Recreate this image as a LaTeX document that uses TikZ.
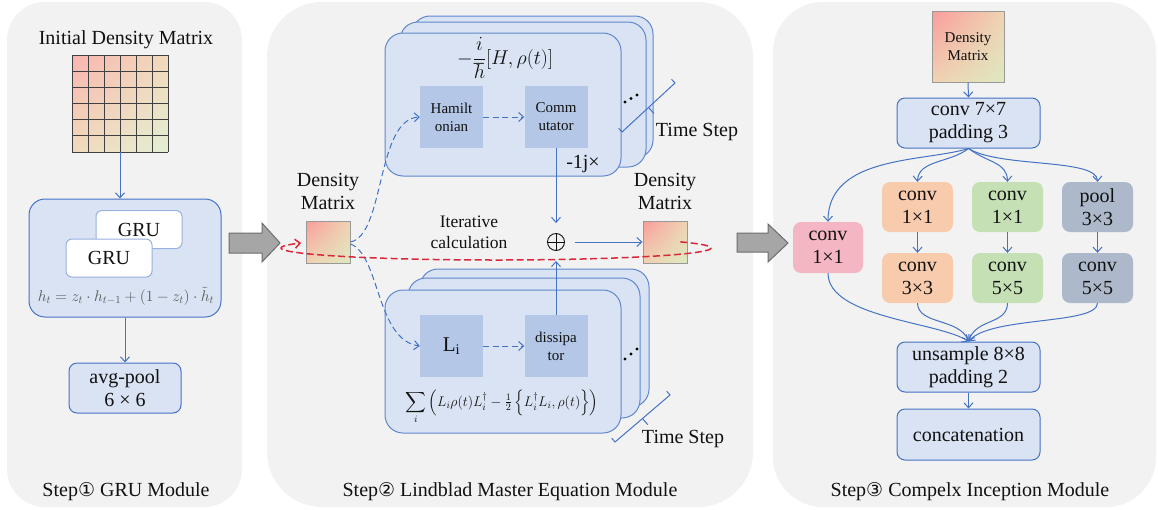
\RequirePackage{fix-cm}
\documentclass[tikz,border=0pt]{standalone}
\usepackage{amsmath}
\usepackage{fontspec}
\setmainfont{Liberation Serif}
\newfontfamily\dejavu{DejaVu Sans}
\usetikzlibrary{arrows.meta,shadings}
\definecolor{panelgray}{HTML}{F2F2F2}
\definecolor{boxblue}{HTML}{DAE3F3}
\definecolor{lineblue}{HTML}{4472C4}
\definecolor{innerblue}{HTML}{B4C7E7}
\definecolor{dmpink}{HTML}{FA9C9C}
\definecolor{dmtan}{HTML}{F0D3B2}
\definecolor{dmgreen}{HTML}{DDE9C0}
\definecolor{gpink}{HTML}{F9B5B0}
\definecolor{gtan}{HTML}{F1DABB}
\definecolor{ggreen}{HTML}{E3EFD4}
\definecolor{cpink}{HTML}{F4B6C2}
\definecolor{corange}{HTML}{F8CBAD}
\definecolor{cgreen}{HTML}{C5E0B4}
\definecolor{cgray}{HTML}{ADB9CA}
\definecolor{redash}{HTML}{D9283A}
\definecolor{arrowgray}{HTML}{A6A6A6}
\definecolor{txt}{HTML}{111111}
\newcommand\myfA{\fontsize{20}{23}\selectfont}
\newcommand\myfB{\fontsize{15}{18}\selectfont}
\newcommand\myfC{\fontsize{17.5}{21}\selectfont}
\begin{document}
\begin{tikzpicture}[x=1pt,y=-1pt,
  every node/.style={text=txt},
  panel/.style={fill=panelgray,draw=none},
  bluebox/.style={fill=boxblue,draw=lineblue,line width=1pt,rounded corners=8pt,inner sep=0pt,align=center,font=\myfA},
  stacklayer/.style={fill=boxblue,draw=lineblue!85,line width=1pt,rounded corners=18pt},
  innerbox/.style={fill=innerblue,draw=none,inner sep=0pt,minimum width=63pt,minimum height=62pt,align=center,font=\myfB},
  colbox/.style={draw=none,rounded corners=8pt,inner sep=0pt,minimum width=71pt,minimum height=50pt,align=center,font=\myfA},
  gruwhite/.style={fill=white,draw=lineblue!55,line width=1pt,rounded corners=6pt,minimum width=86pt,minimum height=38pt,inner sep=0pt,font=\myfA},
  dmsq/.style={draw=gray!80,line width=1pt,inner sep=0pt,upper left=dmpink,upper right=dmtan,lower left=dmtan,lower right=dmgreen,align=center},
  conn/.style={draw=lineblue,line width=1pt,-{Straight Barb[length=5pt,width=9pt]}},
  dconn/.style={conn,dash pattern=on 6pt off 3.5pt},
  bigarrow/.style={fill=arrowgray,draw=gray!85!black,line width=1pt},
  bracket/.style={draw=lineblue,line width=1pt},
  lbl/.style={font=\myfA,align=center,inner sep=0pt},
  oplusnode/.style={circle,draw=txt,line width=0.9pt,minimum size=17pt,inner sep=0pt,
    path picture={\draw[txt,line width=0.9pt] (path picture bounding box.north) -- (path picture bounding box.south)
      (path picture bounding box.west) -- (path picture bounding box.east);}}
]
\useasboundingbox (0,0) rectangle (1158,509);
\fill[white] (0,0) rectangle (1158,509);
% panels
\fill[panel,rounded corners=38pt] (7,2) rectangle (242,507);
\fill[panel,rounded corners=55pt] (267,2) rectangle (753,507);
\fill[panel,rounded corners=50pt] (773,2) rectangle (1156,507);
% big arrows
\draw[bigarrow] (229,233) -- (262,233) -- (262,223) -- (280,243) -- (262,262) -- (262,253) -- (229,253) -- cycle;
\draw[bigarrow] (737,233) -- (768,233) -- (768,224) -- (788,243) -- (768,262) -- (768,252) -- (737,252) -- cycle;

% ---------------- Panel 1
\node[lbl] (t1) at (126,40) {Initial Density Matrix};
\node[inner sep=0pt,minimum width=96pt,minimum height=97pt,upper left=gpink,upper right=gtan,lower left=gtan,lower right=ggreen] (grid) at (120,103.5) {};
\foreach \i in {0,...,6}{
  \draw[gray!50!black,line width=0.8pt] (72+16*\i,55) -- (72+16*\i,152);
  \draw[gray!50!black,line width=0.8pt] (72,55+16.17*\i) -- (168,55+16.17*\i);
}
\node[bluebox,rounded corners=16pt,minimum width=192pt,minimum height=118pt] (gru) at (125,258) {};
\node[gruwhite] (gru2) at (139,229.5) {GRU};
\node[gruwhite] (gru1) at (109,258) {GRU};
\node[text=gray!70!black,inner sep=0pt,font=\fontsize{15.5}{18}\selectfont] (hf) at (126,296) {$h_t = z_t\cdot h_{t-1} + (1-z_t)\cdot \tilde{h}_t$};
\node[bluebox,minimum width=112pt,minimum height=50pt] (avg) at (125,388) {avg-pool\\6 × 6};
\draw[conn] (grid.south) -- (grid.south |- gru.north);
\draw[conn] (gru.south) -- (avg.north);
\node[lbl] (s1) at (126,492) {Step{\dejavu\fontsize{19}{22}\selectfont ①} GRU Module};

% ---------------- Panel 2
% top stack
\draw[stacklayer] (412,16) rectangle (653,158);
\draw[stacklayer] (400,22) rectangle (646,167);
\draw[stacklayer] (385,33) rectangle (621,176);
\node[inner sep=0pt,font=\fontsize{20}{23}\selectfont] (hfrm) at (505,58) {$\displaystyle -\frac{i}{\hbar}[H,\rho(t)]$};
\node[innerbox] (ham) at (451.5,117) {Hamilt\\onian};
\node[innerbox] (com) at (556,117) {Comm\\utator};
\draw[dconn] (ham.east) -- (com.west);
\foreach \p in {(625,102),(631,98.5),(637,95)} \fill[black] \p circle (1.6pt);
\node[lbl] (mj) at (583,164) {-1j×};
% bottom stack
\draw[stacklayer] (420,269) rectangle (649,407);
\draw[stacklayer] (408,278) rectangle (640,418);
\draw[stacklayer] (385,290) rectangle (621,433);
\node[innerbox,font=\fontsize{21}{24}\selectfont] (li) at (451.5,346) {L\textsubscript{i}};
\node[innerbox] (dis) at (556,346) {dissipa\\tor};
\draw[dconn] (li.east) -- (dis.west);
\foreach \p in {(625,359),(631,354),(637,349)} \fill[black] \p circle (1.6pt);
\node[inner sep=0pt,font=\fontsize{14}{17}\selectfont] (lf) at (502,407) {$\displaystyle\sum_i \left(L_i\rho(t)L_i^\dagger - \tfrac{1}{2}\left\{L_i^\dagger L_i,\rho(t)\right\}\right)$};
% time step brackets
\draw[bracket] (618.6,128.3) -- (622,132) -- (675,83) -- (671.6,79.3);
\draw[bracket] (648.5,107.5) -- (653.9,113.4);
\node[lbl] (ts1) at (697,132) {Time Step};
\draw[bracket] (611.7,438.2) -- (615,442) -- (670,395) -- (666.7,391.2);
\draw[bracket] (642.5,418.5) -- (647.7,424.6);
\node[lbl] (ts2) at (683,439) {Time Step};
% density matrices
\node[lbl] (dl) at (328,191) {Density\\Matrix};
\node[lbl] (dr) at (665,191) {Density\\Matrix};
\node[dmsq,minimum width=44pt,minimum height=42pt] (dml) at (328,242) {};
\node[dmsq,minimum width=44pt,minimum height=42pt] (dmr) at (665,242) {};
\node[oplusnode] (op) at (556,242) {};
\node[inner sep=0pt,align=center,font=\myfC] (it) at (469,232) {Iterative\\calculation};
\draw[conn] (com.south) -- ([yshift=10pt]op.north);
\draw[conn] (dis.north) -- ([yshift=-10pt]op.south);
\draw[conn] ([xshift=10pt]op.east) -- (dmr.west);
\draw[dconn] (dml.east) .. controls (385,235) and (376,119) .. (ham.west);
\draw[dconn] ([yshift=-2pt]dml.east) .. controls (380,255) and (376,340) .. (li.west);
\draw[redash,line width=1.5pt,dash pattern=on 7pt off 3.5pt,-{Straight Barb[length=5pt,width=9pt]}]
  plot[domain=-31:205,samples=90,smooth] ({496+215*cos(\x)},{248+12*sin(\x)});
\node[lbl] (s2) at (510,492) {Step{\dejavu\fontsize{19}{22}\selectfont ②} Lindblad Master Equation Module};

% ---------------- Panel 3
\node[dmsq,minimum width=72pt,minimum height=71pt,font=\myfB] (dm3) at (968,46.5) {Density\\Matrix};
\node[bluebox,minimum width=143pt,minimum height=50pt] (c7) at (968.5,123) {conv 7×7\\padding 3};
\node[colbox,fill=cpink,minimum width=70pt,minimum height=51pt] (cp) at (828,247.5) {conv\\1×1};
\node[colbox,fill=corange] (o1) at (917.5,207) {conv\\1×1};
\node[colbox,fill=cgreen] (g1) at (1007.5,207) {conv\\1×1};
\node[colbox,fill=cgray] (p1) at (1097.5,207) {pool\\3×3};
\node[colbox,fill=corange] (o2) at (917.5,278) {conv\\3×3};
\node[colbox,fill=cgreen] (g2) at (1007.5,278) {conv\\5×5};
\node[colbox,fill=cgray] (p2) at (1097.5,278) {conv\\5×5};
\node[bluebox,minimum width=143pt,minimum height=50pt] (un) at (968.5,367) {unsample 8×8\\padding 2};
\node[bluebox,minimum width=143pt,minimum height=51pt] (cat) at (968.5,434.5) {concatenation};
\draw[conn] (dm3.south) -- (c7.north);
\draw[conn] (c7.south) .. controls (925,162) and (828,155) .. (cp.north);
\draw[conn] (c7.south) .. controls (950,163) and (918,160) .. (o1.north);
\draw[conn] (c7.south) .. controls (988,163) and (1007,162) .. (g1.north);
\draw[conn] (c7.south) .. controls (1000,168) and (1097,158) .. (p1.north);
\draw[conn] (o1.south) -- (o2.north);
\draw[conn] (g1.south) -- (g2.north);
\draw[conn] (p1.south) -- (p2.north);
\draw[conn] (cp.south) .. controls (828,318) and (940,322) .. (un.north);
\draw[conn] (o2.south) .. controls (918,325) and (960,318) .. (un.north);
\draw[conn] (g2.south) .. controls (1007,325) and (976,318) .. (un.north);
\draw[conn] (p2.south) .. controls (1097,325) and (990,316) .. (un.north);
\draw[conn] (un.south) -- (cat.north);
\node[lbl] (s3) at (970,492) {Step{\dejavu\fontsize{19}{22}\selectfont ③} Compelx Inception Module};
\end{tikzpicture}
\end{document}
